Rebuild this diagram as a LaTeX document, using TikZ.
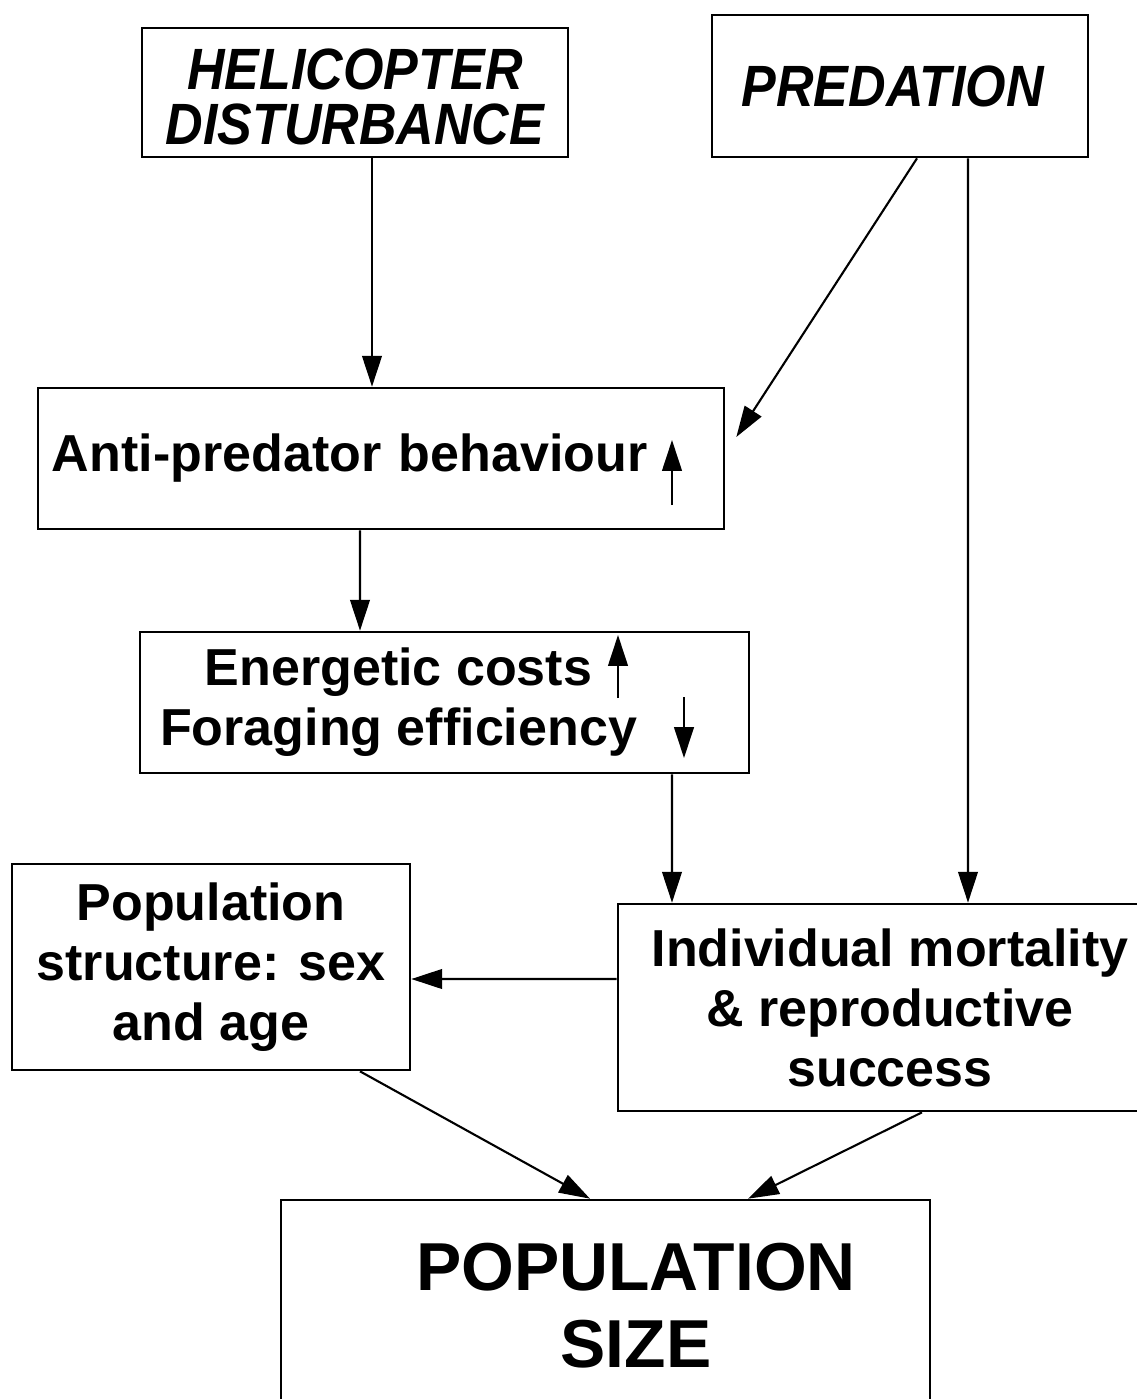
\documentclass[tikz,border=0pt]{standalone}
\usepackage{fontspec}
\setmainfont{Liberation Sans}
\usepackage{tikz}
\usetikzlibrary{arrows.meta}
\tikzstyle{arrow} = [line width=0.6pt,->,>={Triangle[length=8.8pt,width=5.6pt]}]
\tikzstyle{box} = [rectangle,draw,line width=0.75pt,inner sep=0pt,align=center]
\newcommand{\boxfont}{\fontsize{14.8}{17.1}\selectfont\bfseries}
\newcommand{\titlefont}{\fontsize{14.8}{15.6}\selectfont\bfseries\itshape}
\newcommand{\sizefont}{\fontsize{19.3}{21.9}\selectfont\bfseries}
\newcommand{\tall}[1]{\scalebox{1}[1.12]{#1}}

\begin{document}
\begin{tikzpicture}[font=\boxfont]
\useasboundingbox (0,0) rectangle (11.36,-13.99);

\node[box, minimum width=4.26cm, minimum height=1.29cm, font=\titlefont] (heli) at (3.55,-0.925) {
    \rule{0pt}{14.3pt}\tall{HELICOPTER}\\\tall{DISTURBANCE}
};
\node[box, minimum width=3.76cm, minimum height=1.42cm, font=\titlefont] (pred) at (9.00,-0.86) {
    \tall{PREDATION}
};

\node[box, minimum width=6.86cm, minimum height=1.41cm, text width=6.58cm, align=left] (anti) at (3.81,-4.585) {
    \raisebox{-1pt}{Anti-predator behaviour}
};

\node[box, minimum width=6.09cm, minimum height=1.41cm] (energy) at (4.445,-7.025) {
    Energetic costs\hspace*{0.92cm}\\
    Foraging efficiency\hspace*{0.92cm}
};

\node[box, minimum width=3.98cm, minimum height=2.06cm] (struct) at (2.11,-9.67) {
    Population\\structure: sex\\and age
};
\node[box, minimum width=5.44cm, minimum height=2.07cm, text depth=0pt] (indiv) at (8.90,-10.075) {
    Individual mortality\\\& reproductive\\success
};

\node[box, minimum width=6.49cm, minimum height=2.12cm, font=\sizefont] (popsize) at (6.055,-13.06) {
    \hspace*{0.61cm}POPULATION\\\hspace*{0.61cm}SIZE
};

% up and down marks inside the boxes
\coordinate (antiup) at (6.72,-5.05);
\coordinate (costup) at (6.18,-6.98);
\coordinate (foragedown) at (6.84,-6.97);
\draw[arrow] (antiup) -- ++(0,0.65);
\draw[arrow] (costup) -- ++(0,0.63);
\draw[arrow] (foragedown) -- ++(0,-0.61);

\draw[arrow] ([xshift=0.17cm]heli.south) -- ([xshift=-0.09cm]anti.north);
\draw[arrow] ([xshift=0.17cm]pred.south) -- ([shift={(0.11,0.215)}]anti.east);
\draw[arrow] ([xshift=0.68cm]pred.south) -- ([xshift=0.78cm]indiv.north);
\draw[arrow] ([xshift=-0.21cm]anti.south) -- ([xshift=-0.845cm]energy.north);
\draw[arrow] ([xshift=2.275cm]energy.south) -- ([xshift=-2.18cm]indiv.north);
\draw[arrow] ([yshift=0.285cm]indiv.west) -- ([yshift=-0.12cm]struct.east);
\draw[arrow] ([xshift=1.49cm]struct.south) -- ([xshift=-0.155cm]popsize.north);
\draw[arrow] ([xshift=0.32cm]indiv.south) -- ([xshift=1.425cm]popsize.north);
\end{tikzpicture}
\end{document}
